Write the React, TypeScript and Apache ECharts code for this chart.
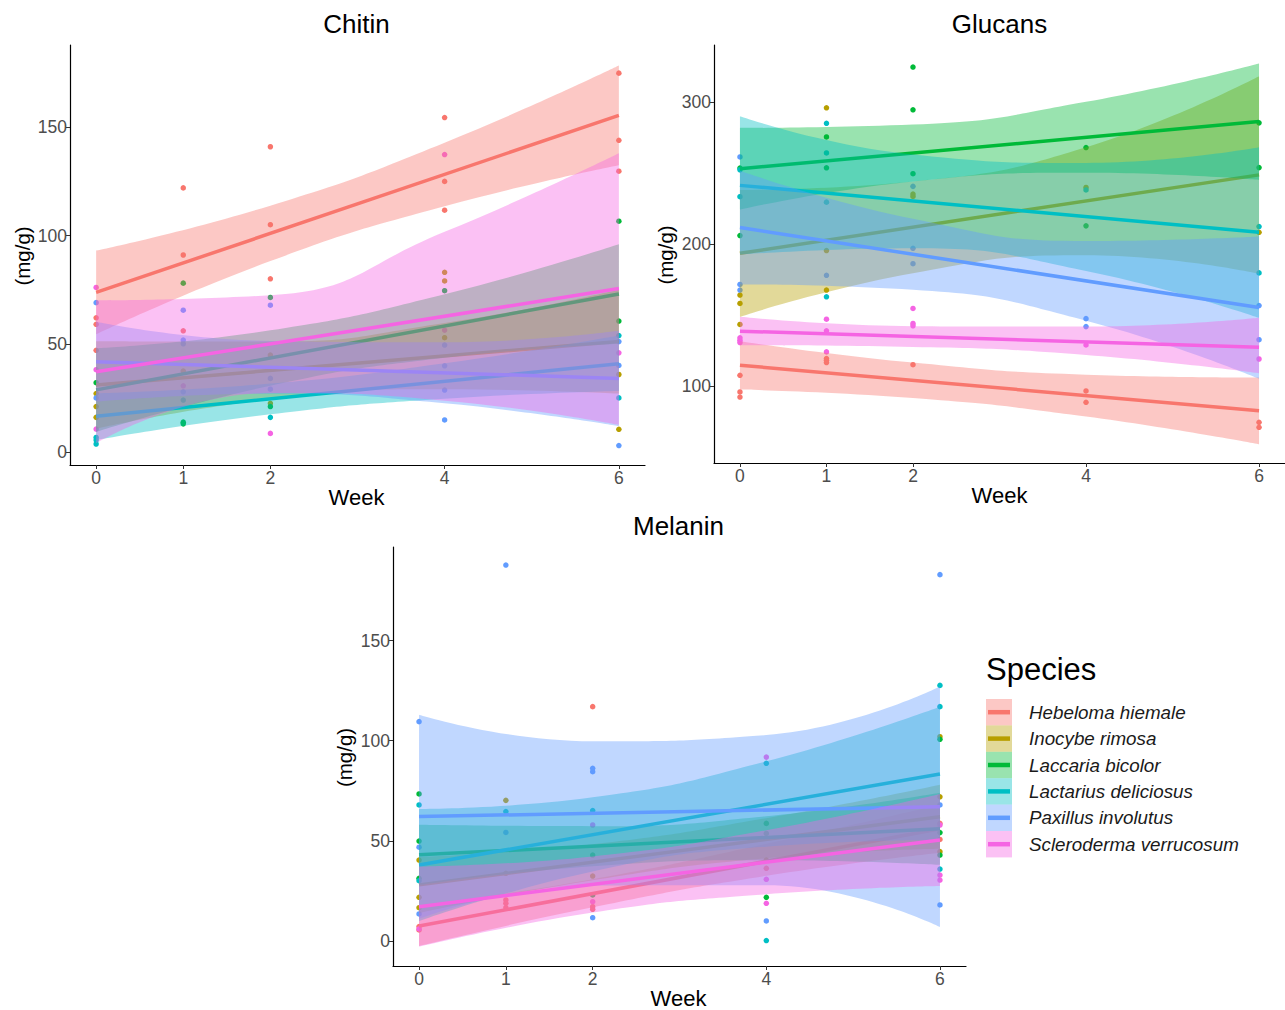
import React, { useEffect, useRef } from "react";
import * as echarts from "echarts";

const species = [
  "Hebeloma hiemale",
  "Inocybe rimosa",
  "Laccaria bicolor",
  "Lactarius deliciosus",
  "Paxillus involutus",
  "Scleroderma verrucosum",
];
const colors = ["#F8766D", "#B79F00", "#00BA38", "#00BFC4", "#619CFF", "#F564E3"];

const panelTitles = ["Chitin", "Glucans", "Melanin"];
const xTicks = [0, 1, 2, 4, 6];
const bandWeeks = [0, 2, 4, 6];
const chitinTicks = [0, 50, 100, 150];
const glucanTicks = [100, 200, 300];
const melaninTicks = [0, 50, 100, 150];

// ---- Chitin ----
const chitinPoints = [
  [[0, 62], [0, 59], [0, 47], [1, 122], [1, 91], [1, 56], [2, 141], [2, 105], [2, 80], [4, 154.5], [4, 125], [4, 111.7], [6, 175], [6, 144], [6, 129.7]],
  [[0, 27], [0, 21], [0, 16], [1, 37.4], [2, 44.8], [2, 22.5], [4, 83], [4, 79], [4, 52.8], [6, 35.8], [6, 10.5]],
  [[0, 32], [1, 78], [1, 13.8], [1, 13], [2, 71.4], [2, 21], [4, 74.5], [6, 106.6], [6, 60.5]],
  [[0, 6.7], [0, 5.5], [0, 3.7], [1, 24], [2, 16], [6, 53.8], [6, 25]],
  [[0, 69], [0, 25], [1, 65.5], [1, 51.7], [1, 50], [1, 27.8], [2, 67.8], [2, 34], [2, 29], [4, 49.4], [4, 39.8], [4, 28.6], [4, 14.8], [6, 51], [6, 40], [6, 3]],
  [[0, 76], [0, 38], [0, 10.6], [1, 30.6], [2, 8.6], [4, 137.4], [4, 56.3], [6, 45.8]],
];
const chitinLines = [[73.7, 155.5], [31, 51], [28.7, 73], [16.5, 40.8], [41.7, 34], [37.1, 75.5]];
const chitinLower = [
  [54.4, 88.2, 113.5, 132.5],
  [10.8, 24.4, 29, 27],
  [9.3, 30.6, 43.5, 50],
  [5.5, 17.4, 24.6, 28.2],
  [23.2, 26.9, 22.5, 12],
  [4, 27.2, 23.7, 12.5],
];
const chitinUpper = [
  [93, 113.8, 142.9, 178.5],
  [51.2, 51, 59.6, 75],
  [47.9, 56.2, 72.9, 96],
  [27.1, 31.6, 41, 53.8],
  [60.2, 51.3, 50.7, 56],
  [70, 72.4, 101.7, 138],
];

// ---- Glucans ----
const glucanPoints = [
  [[0, 107.5], [0, 95.8], [0, 92.2], [1, 119.3], [1, 118.1], [1, 116.5], [2, 115], [4, 96.5], [4, 88.5], [6, 74.4], [6, 70.9]],
  [[0, 164], [0, 158.1], [0, 143.3], [1, 295.8], [1, 195.3], [1, 167.5], [2, 235.1], [2, 233.4], [4, 239.7], [6, 208.2]],
  [[0, 253.4], [0, 205.9], [1, 275.3], [1, 253.6], [2, 324.5], [2, 294.4], [2, 249.4], [4, 267.8], [4, 212.7], [6, 285.2], [6, 253.7]],
  [[0, 252.2], [0, 233.2], [1, 284.9], [1, 264], [1, 229.4], [1, 162.8], [4, 238], [6, 212.2], [6, 179.6]],
  [[0, 261.2], [0, 171.5], [0, 167.5], [1, 177.9], [2, 240.5], [2, 196.9], [2, 186.1], [4, 147.4], [4, 141.8], [6, 156.6], [6, 132.6]],
  [[0, 133.9], [0, 132.2], [0, 130.6], [1, 147], [1, 138.8], [1, 124], [2, 154.6], [2, 144], [2, 142.4], [4, 128.9], [6, 119]],
];
const glucanLines = [[114.6, 82.6], [193.4, 248.6], [252.9, 286.1], [241.2, 208.2], [211.5, 155.2], [138.6, 127.2]];
const glucanLower = [
  [97.5, 91.5, 78.5, 59],
  [148.7, 179.3, 192, 179],
  [224.2, 244, 250, 245],
  [192.5, 197, 181, 148],
  [171.5, 167.7, 146, 105.2],
  [128.7, 127.5, 121.8, 109],
];
const glucanUpper = [
  [131.5, 116.5, 108, 106],
  [238, 244, 268, 318],
  [281.6, 284, 300, 327],
  [289.9, 263, 257, 268],
  [251.5, 217.7, 202, 205.2],
  [148.7, 142.1, 141.8, 148],
];

// ---- Melanin ----
const melaninPoints = [
  [[0, 7.2], [0, 5.5], [1, 20.5], [1, 18.8], [1, 16.6], [2, 117], [2, 17.1], [2, 15.8], [4, 36.3], [6, 58.7], [6, 50.7]],
  [[0, 40.4], [0, 21.8], [0, 16.6], [1, 70.2], [1, 33.8], [2, 32.4], [4, 40.4], [6, 102], [6, 72], [6, 44.6]],
  [[0, 73.4], [0, 49.9], [0, 31.3], [2, 23], [2, 42.9], [4, 58.7], [4, 53.7], [4, 21.8], [6, 100.7], [6, 54.1], [6, 42.9]],
  [[0, 67.9], [0, 30.1], [1, 64.6], [2, 65.1], [4, 88.7], [4, 0.2], [6, 127.6], [6, 117], [6, 35.9]],
  [[0, 109.5], [0, 46.8], [0, 13.5], [1, 187.7], [1, 54.2], [2, 86.2], [2, 84.5], [2, 11.6], [4, 10], [6, 182.9], [6, 67.9], [6, 18]],
  [[0, 6], [2, 57.9], [2, 19.6], [4, 91.8], [4, 18.8], [4, 30.8], [6, 57.9], [6, 32.9], [6, 30.4]],
];
const melaninLines = [[7.5, 56], [28, 62], [43, 56], [37.9, 83.4], [62.1, 67], [17.1, 50.4]];
const melaninLower = [
  [-2.5, 16.8, 32.5, 44],
  [14, 30.3, 41.3, 46],
  [28, 37.3, 40.3, 38],
  [9.9, 34.7, 47.1, 50.4],
  [11, 27.7, 27.8, 7],
  [-2.9, 14.2, 23.3, 27.4],
];
const melaninUpper = [
  [17.5, 30.8, 48.5, 68],
  [42, 48.3, 61.3, 78],
  [58, 57.3, 62.3, 74],
  [65.9, 71.7, 89.7, 117],
  [113, 99.7, 102.8, 127],
  [37.1, 42.2, 55.3, 73.4],
];

const FONT = "'Liberation Sans', Arial, sans-serif";

const panels = [
  { points: chitinPoints, lines: chitinLines, lower: chitinLower, upper: chitinUpper, ticks: chitinTicks, ymin: -6, ymax: 188,
    grid: { left: 70, top: 45, width: 575, height: 420 }, ytitleX: 22 },
  { points: glucanPoints, lines: glucanLines, lower: glucanLower, upper: glucanUpper, ticks: glucanTicks, ymin: 45.8, ymax: 340,
    grid: { left: 714, top: 45, width: 573, height: 418 }, ytitleX: 665 },
  { points: melaninPoints, lines: melaninLines, lower: melaninLower, upper: melaninUpper, ticks: melaninTicks, ymin: -12.5, ymax: 196.7,
    grid: { left: 393, top: 547, width: 573, height: 419 }, ytitleX: 344 },
];

function buildOption() {
  const grids: any[] = [];
  const xAxes: any[] = [];
  const yAxes: any[] = [];
  const series: any[] = [];
  const graphic: any[] = [];

  panels.forEach((p, i) => {
    grids.push({ ...p.grid, containLabel: false });
    xAxes.push({
      type: "value", gridIndex: i, min: -0.3, max: 6.3, z: 20,
      axisLine: { show: true, onZero: false, lineStyle: { color: "#000", width: 1.2 } },
      axisTick: { show: true, length: 4, customValues: xTicks, lineStyle: { color: "#333", width: 1 } },
      axisLabel: { customValues: xTicks, color: "#4D4D4D", fontSize: 17.5, margin: 4, fontFamily: FONT },
      splitLine: { show: false },
    });
    yAxes.push({
      type: "value", gridIndex: i, min: p.ymin, max: p.ymax, z: 20,
      axisLine: { show: true, onZero: false, lineStyle: { color: "#000", width: 1.2 } },
      axisTick: { show: true, length: 4, customValues: p.ticks, lineStyle: { color: "#333", width: 1 } },
      axisLabel: { customValues: p.ticks, color: "#4D4D4D", fontSize: 17.5, margin: 3, fontFamily: FONT },
      splitLine: { show: false },
    });
    species.forEach((name, s) => {
      series.push({
        type: "scatter", name, xAxisIndex: i, yAxisIndex: i, silent: true, z: 1,
        data: p.points[s], symbolSize: 5.5,
        itemStyle: { color: colors[s], opacity: 1 },
      });
    });
    species.forEach((name, s) => {
      const stack = `band-${i}-${s}`;
      const z = 2 + s;
      // data given as [value, week] so the stacked dimension is the value (y)
      series.push({
        type: "line", xAxisIndex: i, yAxisIndex: i, silent: true, stack, stackStrategy: "all", z,
        encode: { x: 1, y: 0 },
        data: bandWeeks.map((w, k) => [p.lower[s][k], w]),
        smooth: true, symbol: "none", showSymbol: false,
        lineStyle: { width: 0, opacity: 0 },
      });
      series.push({
        type: "line", xAxisIndex: i, yAxisIndex: i, silent: true, stack, stackStrategy: "all", z,
        encode: { x: 1, y: 0 },
        data: bandWeeks.map((w, k) => [p.upper[s][k] - p.lower[s][k], w]),
        smooth: true, symbol: "none", showSymbol: false,
        lineStyle: { width: 0, opacity: 0 },
        areaStyle: { color: colors[s], opacity: 0.4 },
      });
      series.push({
        type: "line", name, xAxisIndex: i, yAxisIndex: i, silent: true, z,
        data: [[0, p.lines[s][0]], [6, p.lines[s][1]]],
        symbol: "none", showSymbol: false,
        lineStyle: { color: colors[s], width: 3.5 },
      });
    });

    const g = p.grid;
    graphic.push({
      type: "text", x: g.left + g.width / 2 - 1, y: g.top - 21,
      style: { text: panelTitles[i], font: `26px ${FONT}`, fill: "#000", align: "center", verticalAlign: "middle" },
    });
    graphic.push({
      type: "text", x: g.left + g.width / 2 - 1, y: g.top + g.height + 32,
      style: { text: "Week", font: `22px ${FONT}`, fill: "#000", align: "center", verticalAlign: "middle" },
    });
    graphic.push({
      type: "text", x: p.ytitleX, y: g.top + g.height / 2 + 1, rotation: Math.PI / 2,
      style: { text: "(mg/g)", font: `20.5px ${FONT}`, fill: "#000", align: "center", verticalAlign: "middle" },
    });
  });

  // legend
  graphic.push({
    type: "text", x: 986, y: 669,
    style: { text: "Species", font: `31px ${FONT}`, fill: "#000", align: "left", verticalAlign: "middle" },
  });
  species.forEach((name, s) => {
    const top = 699 + s * 26.4;
    graphic.push({
      type: "rect", shape: { x: 986, y: top, width: 26, height: 26.4 },
      style: { fill: colors[s], opacity: 0.4 },
    });
    graphic.push({
      type: "line", shape: { x1: 988, y1: top + 13.2, x2: 1010, y2: top + 13.2 },
      style: { stroke: colors[s], lineWidth: 4.5 },
    });
    graphic.push({
      type: "text", x: 1029, y: top + 13.2,
      style: { text: name, font: `italic 18.8px ${FONT}`, fill: "#1a1a1a", align: "left", verticalAlign: "middle" },
    });
  });

  return {
    animation: false,
    backgroundColor: "#fff",
    grid: grids,
    xAxis: xAxes,
    yAxis: yAxes,
    series,
    graphic,
  };
}

export default function App() {
  const ref = useRef<HTMLDivElement>(null);
  useEffect(() => {
    if (!ref.current) return;
    const chart = echarts.init(ref.current, undefined, { renderer: "svg" });
    chart.setOption(buildOption() as any);
    return () => chart.dispose();
  }, []);
  return (
    <div
      ref={ref}
      style={{ position: "fixed", left: 0, top: 0, width: 1285, height: 1010, background: "#fff" }}
    />
  );
}
